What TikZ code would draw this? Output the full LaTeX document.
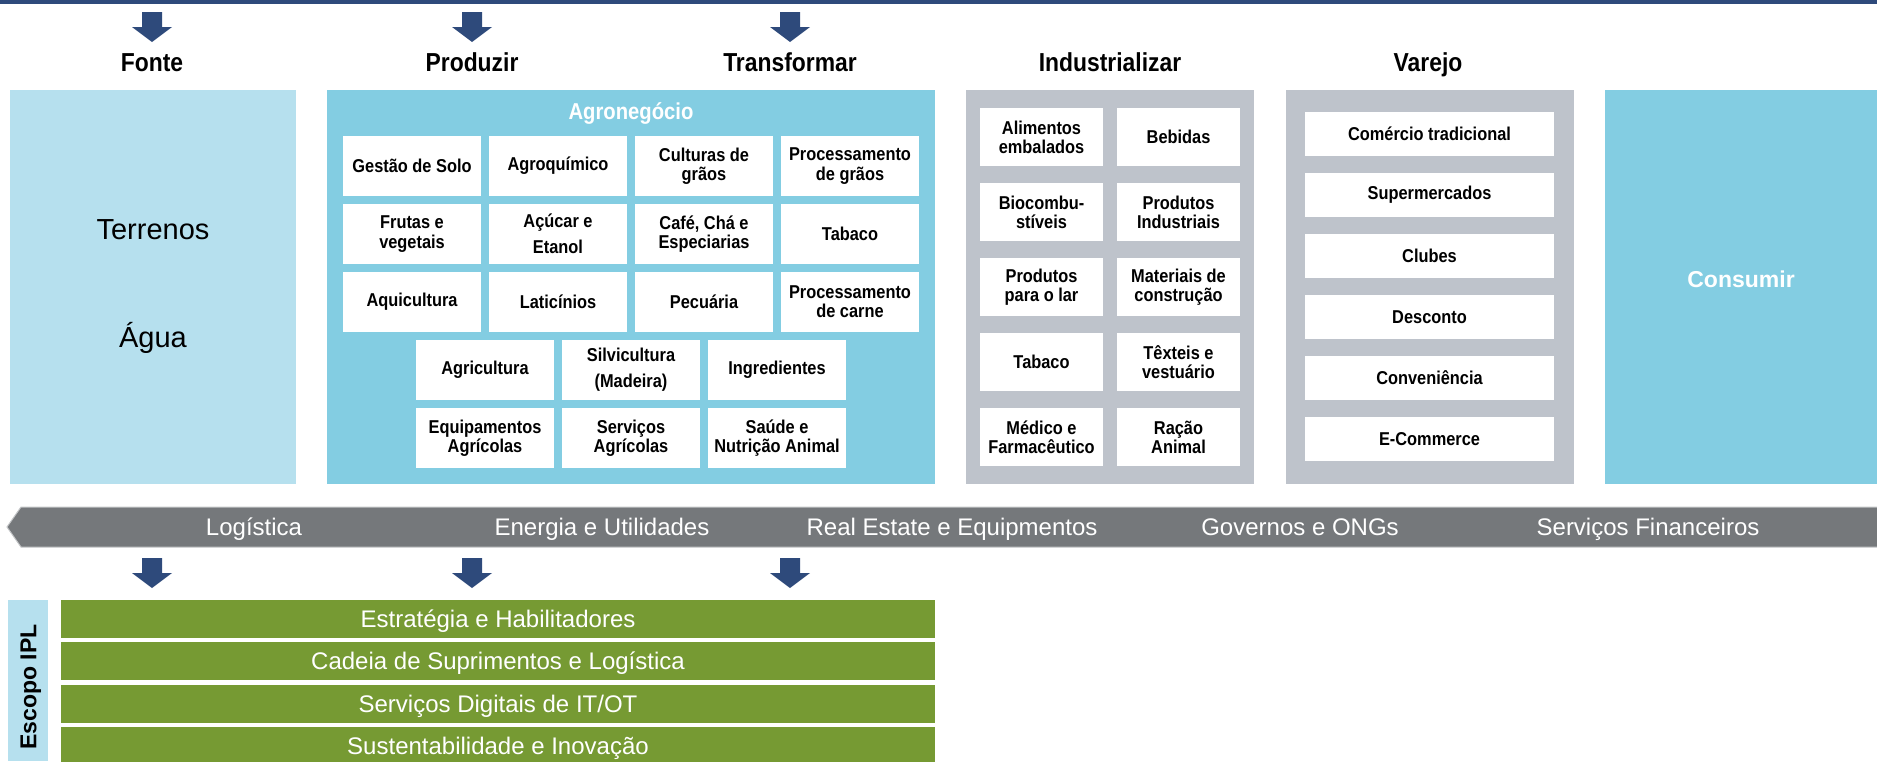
\documentclass[tikz,border=0pt]{standalone}
\usepackage{fontspec}
\setmainfont{Liberation Sans}
\newfontfamily\condfont[FakeStretch=0.88]{Liberation Sans}
\usepackage{xcolor}
\definecolor{dkblue}{HTML}{2E4A7B}
\definecolor{paleblue}{HTML}{B6E0EE}
\definecolor{agroblue}{HTML}{83CDE2}
\definecolor{panelgray}{HTML}{BEC3CB}
\definecolor{bandgray}{HTML}{75787B}
\definecolor{bandedge}{HTML}{C3C5C7}
\definecolor{ipgreen}{HTML}{769A33}

\begin{document}
\begin{tikzpicture}[x=0.5pt, y=-0.5pt]
    \tikzstyle{panel}=[inner sep=0pt, minimum height=197pt]
    \tikzstyle{cell}=[fill=white, inner sep=0pt, minimum width=69pt, minimum height=30pt, align=center, font=\condfont\bfseries\fontsize{9.3}{9.6}\selectfont]
    \tikzstyle{icell}=[cell, minimum width=61.5pt, minimum height=29pt]
    \tikzstyle{vcell}=[cell, minimum width=124.5pt, minimum height=22pt]
    \tikzstyle{stage}=[font=\condfont\bfseries\fontsize{13}{15}\selectfont, text height=9.3pt, text depth=0pt]
    \tikzstyle{service}=[text=white, font=\fontsize{12}{14}\selectfont, text height=8.6pt, text depth=0pt]
    \tikzstyle{scope}=[fill=ipgreen, text=white, minimum width=437pt, minimum height=19pt, inner sep=0pt, font=\fontsize{12}{14}\selectfont, text height=8.6pt, text depth=0pt]

    \useasboundingbox (0,0) rectangle (1877,761);
    \fill[dkblue] (0,0) rectangle (1877,4);

    % block arrows, top and bottom
    \foreach \x in {152,472,790}{
        \fill[dkblue] (\x-10,12) -- (\x+10,12) -- (\x+10,27) -- (\x+20,27) -- (\x,42) -- (\x-20,27) -- (\x-10,27) -- cycle;
        \fill[dkblue] (\x-10,558) -- (\x+10,558) -- (\x+10,573) -- (\x+20,573) -- (\x,588) -- (\x-20,573) -- (\x-10,573) -- cycle;
    }

    \foreach \lbl/\x [count=\i] in {Fonte/152, Produzir/472, Transformar/790, Industrializar/1110, Varejo/1428}{
        \node[stage] (stage-\i) at (\x,62) {\lbl};
    }

    % panels
    \node[panel, fill=paleblue, minimum width=143pt] (fonte) at (153,287) {};
    \node[panel, fill=agroblue, minimum width=304pt] (agro) at (631,287) {};
    \node[panel, fill=panelgray, minimum width=144pt] (ind) at (1110,287) {};
    \node[panel, fill=panelgray, minimum width=144pt] (varejo) at (1430,287) {};
    \node[panel, fill=agroblue, minimum width=136pt] (consumir) at (1741,287) {};

    \node[font=\fontsize{14.5}{16}\selectfont] (terrenos) at (153,230) {Terrenos};
    \node[font=\fontsize{14.5}{16}\selectfont] (agua) at (153,338) {Água};
    \node[text=white, font=\condfont\bfseries\fontsize{11.5}{13}\selectfont] (agro-lbl) at (631,113) {Agronegócio};
    \node[text=white, font=\bfseries\fontsize{11.5}{13}\selectfont] (consumir-lbl) at (1741,279) {Consumir};

    % agronegocio grid
    \foreach \lbl [count=\i from 0] in {Gestão de Solo, Agroquímico, {Culturas de\\grãos}, {Processamento\\de grãos}, {Frutas e\\vegetais}, {Açúcar e\\[3.5pt]Etanol}, {Café, Chá e\\Especiarias}, Tabaco, Aquicultura, Laticínios, Pecuária, {Processamento\\de carne}}{
        \pgfmathtruncatemacro\r{div(\i,4)}
        \pgfmathtruncatemacro\c{mod(\i,4)}
        \node[cell] (A-\r-\c) at (412+146*\c,166+68*\r) {\lbl};
    }
    \foreach \lbl [count=\i from 0] in {Agricultura, {Silvicultura\\[3.5pt](Madeira)}, Ingredientes, {Equipamentos\\Agrícolas}, {Serviços\\Agrícolas}, {Saúde e\\Nutrição Animal}}{
        \pgfmathtruncatemacro\r{div(\i,3)+3}
        \pgfmathtruncatemacro\c{mod(\i,3)}
        \node[cell] (A-\r-\c) at (485+146*\c,166+68*\r) {\lbl};
    }

    % industrializar grid
    \foreach \lbl [count=\i from 0] in {{Alimentos\\embalados}, Bebidas, {Biocombu-\\stíveis}, {Produtos\\Industriais}, {Produtos\\para o lar}, {Materiais de\\construção}, Tabaco, {Têxteis e\\vestuário}, {Médico e\\Farmacêutico}, {Ração\\Animal}}{
        \pgfmathtruncatemacro\r{div(\i,2)}
        \pgfmathtruncatemacro\c{mod(\i,2)}
        \node[icell] (I-\r-\c) at (1041.5+137*\c,137+75*\r) {\lbl};
    }

    % varejo list
    \foreach \lbl [count=\i from 0] in {Comércio tradicional, Supermercados, Clubes, Desconto, Conveniência, E-Commerce}{
        \node[vcell] (V-\i) at (1429.5,134+61*\i) {\lbl};
    }

    % support band
    \fill[bandgray, draw=bandedge, line width=0.5pt] (21,507) -- (1880,507) -- (1880,547) -- (21,547) -- (7,527) -- cycle;
    \foreach \lbl/\x [count=\i] in {Logística/254, Energia e Utilidades/602, Real Estate e Equipmentos/952, Governos e ONGs/1300, Serviços Financeiros/1648}{
        \node[service] (band-\i) at (\x,527) {\lbl};
    }

    % escopo IPL
    \fill[paleblue] (8,600) rectangle (48,761);
    \node[rotate=90, font=\bfseries\fontsize{11.5}{13}\selectfont, text height=8.3pt, text depth=0pt] (escopo) at (28,687) {Escopo IPL};
    \foreach \lbl [count=\i from 0] in {Estratégia e Habilitadores, Cadeia de Suprimentos e Logística, Serviços Digitais de IT/OT, Sustentabilidade e Inovação}{
        \node[scope] (S-\i) at (498,619+42.3*\i) {\lbl};
    }
\end{tikzpicture}
\end{document}
